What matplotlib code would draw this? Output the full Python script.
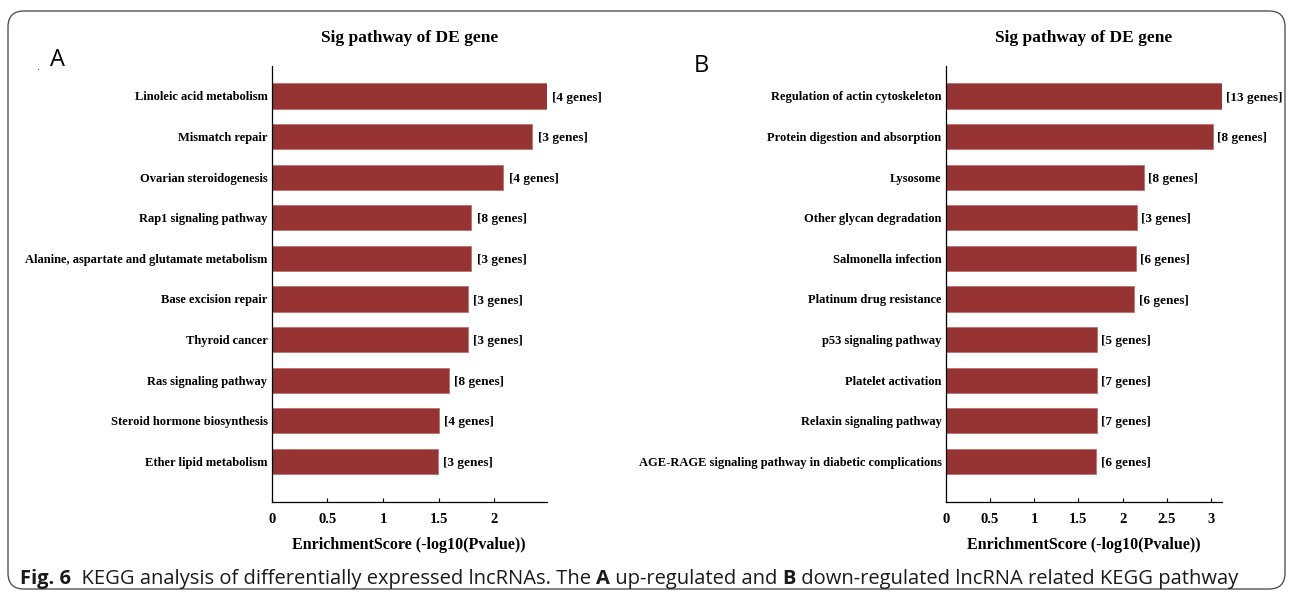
import matplotlib
matplotlib.use('Agg')
import matplotlib.pyplot as plt
from matplotlib.patches import FancyBboxPatch
from matplotlib.offsetbox import TextArea, HPacker, AnchoredOffsetbox

plt.rcParams.update({'font.family': 'Liberation Serif', 'font.weight': 'bold',
                     'axes.titleweight': 'bold', 'axes.labelweight': 'bold'})

# panel A: up-regulated lncRNA
pathways_a = ['Linoleic acid metabolism', 'Mismatch repair', 'Ovarian steroidogenesis',
              'Rap1 signaling pathway', 'Alanine, aspartate and glutamate metabolism',
              'Base excision repair', 'Thyroid cancer', 'Ras signaling pathway',
              'Steroid hormone biosynthesis', 'Ether lipid metabolism']
scores_a = [2.47, 2.34, 2.08, 1.79, 1.79, 1.76, 1.76, 1.59, 1.50, 1.49]
genes_a = [4, 3, 4, 8, 3, 3, 3, 8, 4, 3]
ticks_a = [0, 0.5, 1, 1.5, 2]
xmax_a = 2.47

# panel B: down-regulated lncRNA
pathways_b = ['Regulation of actin cytoskeleton', 'Protein digestion and absorption', 'Lysosome',
              'Other glycan degradation', 'Salmonella infection', 'Platinum drug resistance',
              'p53 signaling pathway', 'Platelet activation', 'Relaxin signaling pathway',
              'AGE-RAGE signaling pathway in diabetic complications']
scores_b = [3.12, 3.02, 2.24, 2.16, 2.15, 2.13, 1.71, 1.71, 1.71, 1.70]
genes_b = [13, 8, 8, 3, 6, 6, 5, 7, 7, 6]
ticks_b = [0, 0.5, 1, 1.5, 2, 2.5, 3]
xmax_b = 3.12

bar_color = '#963333'

fig = plt.figure(figsize=(12.93, 5.94), dpi=100)

# rounded frame around the whole figure
frame = FancyBboxPatch((0.08, 0.05), 12.77, 5.78,
                       boxstyle='round,pad=0,rounding_size=0.16',
                       transform=fig.dpi_scale_trans, fill=False,
                       edgecolor='#555555', linewidth=1.0)
fig.patches.append(frame)


def draw_panel(rect, names, scores, genes, ticks, xmax):
    ax = fig.add_axes(rect)
    y = list(range(len(names)))
    ax.barh(y, scores, height=0.62, color=bar_color, edgecolor='#c07070', linewidth=0.6)
    for yi, s, g in zip(y, scores, genes):
        ax.text(s + 0.05, yi + 0.04, '[%d genes]' % g, va='center', ha='left', fontsize=9.5)
    ax.set_yticks(y)
    ax.set_yticklabels(names, fontsize=9)
    ax.set_ylim(len(names) - 1 + 1.0, -0.74)
    ax.set_xlim(0, xmax)
    ax.set_xticks(ticks)
    ax.set_xticklabels([('%g' % t) for t in ticks], fontsize=10.5)
    ax.tick_params(axis='y', length=0, pad=3)
    ax.tick_params(axis='x', direction='in', length=3, pad=8)
    for side in ['top', 'right']:
        ax.spines[side].set_visible(False)
    ax.spines['left'].set_linewidth(0.9)
    ax.spines['bottom'].set_linewidth(0.9)
    ax.set_xlabel('EnrichmentScore (-log10(Pvalue))', fontsize=11.5, labelpad=8)
    ax.set_title('Sig pathway of DE gene', fontsize=12.5, pad=17)
    return ax


draw_panel([0.2101, 0.155, 0.2127, 0.734], pathways_a, scores_a, genes_a, ticks_a, xmax_a)
draw_panel([0.7314, 0.155, 0.2135, 0.734], pathways_b, scores_b, genes_b, ticks_b, xmax_b)

fig.text(57 / 1293, 1 - 60 / 594, 'A', family='Open Sans', weight='normal',
         fontsize=17, ha='center', va='center')
fig.text(38 / 1293, 1 - 68 / 594, '.', family='Open Sans', weight='normal',
         fontsize=8, ha='center', va='center', color='#444444')
fig.text(701 / 1293, 1 - 66 / 594, 'B', family='Open Sans', weight='normal',
         fontsize=17, ha='center', va='center')

# caption with mixed weights
parts = [('Fig. 6', 'bold'), ('  KEGG analysis of differentially expressed lncRNAs. The ', 'normal'),
         ('A', 'bold'), (' up-regulated and ', 'normal'), ('B', 'bold'),
         (' down-regulated lncRNA related KEGG pathway', 'normal')]
areas = [TextArea(t, textprops=dict(family='Open Sans', weight=w, fontsize=14.5, color='#1a1a1a'))
         for t, w in parts]
pack = HPacker(children=areas, align='baseline', pad=0, sep=0)
anchored = AnchoredOffsetbox(loc='center left', child=pack, pad=0, frameon=False,
                             bbox_to_anchor=(20 / 1293, 1 - 579 / 594),
                             bbox_transform=fig.transFigure, borderpad=0)
fig.add_artist(anchored)

fig.savefig('out.png', dpi=100)
